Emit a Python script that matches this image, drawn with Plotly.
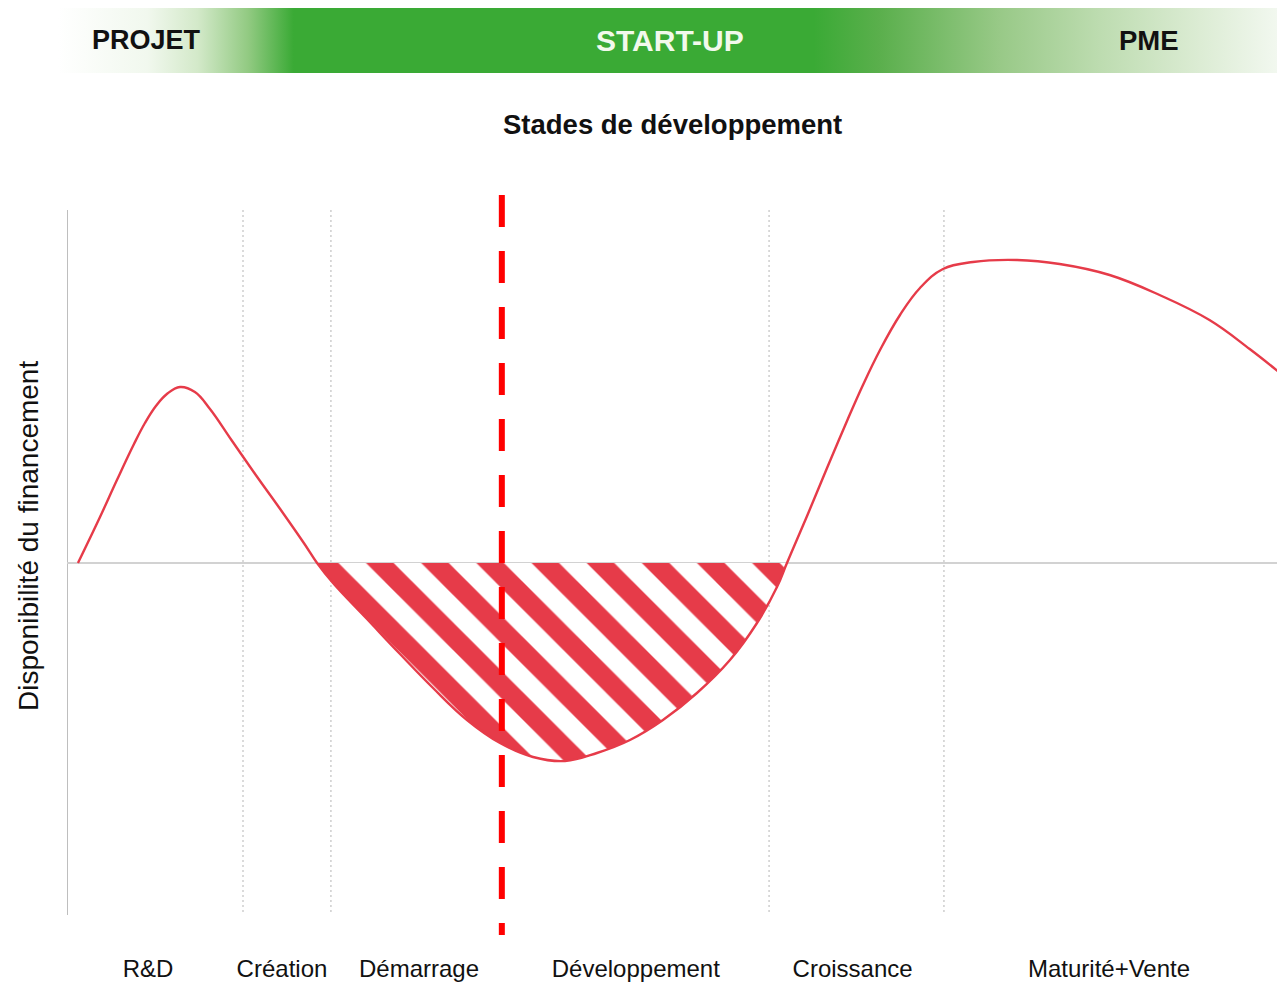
import plotly.graph_objects as go

# Financing availability curve along the development stages (abstract units)
x_curve = [0.9, 2.71, 4.1, 5.5, 6.4, 7.3, 8.2, 9.28, 10.5, 11.74, 13.5, 15.5, 17.5,
           19.5, 20.53, 21.84, 24.63, 27.34, 30.05, 32.84, 35.55, 38.26, 40.89,
           43.51, 46.22, 48.93, 51.72, 54.43, 56.65, 58.29, 59.11, 60.76, 62.4,
           64.04, 65.35, 66.75, 68.39, 70.03, 71.92, 74.38, 78.0, 81.5, 85.6,
           89.7, 93.8, 97.1, 99.6]
y_curve = [0.0, 0.46, 0.83, 1.19, 1.4, 1.57, 1.69, 1.76, 1.71, 1.54, 1.23, 0.88, 0.54,
           0.19, 0.0, -0.2, -0.56, -0.91, -1.25, -1.57, -1.8, -1.94, -1.98,
           -1.9, -1.77, -1.57, -1.3, -0.97, -0.6, -0.24, 0.0, 0.47, 0.95,
           1.42, 1.78, 2.13, 2.48, 2.75, 2.94, 3.01, 3.03, 2.99, 2.88,
           2.68, 2.43, 2.14, 1.9]

# stages (x axis)
stages = ['R&D', 'Création', 'Démarrage', 'Développement', 'Croissance', 'Maturité+Vente']
stage_label_pos = [6.65, 17.65, 28.9, 46.7, 64.5, 85.55]
stage_edges = [14.45, 21.67, 57.64, 72.0]
today_x = 35.7  # red dashed marker

# company phases (top band)
phases = ['PROJET', 'START-UP', 'PME']
phase_pos = [146, 670, 1149]
phase_size = [27, 30, 27.5]

RED = '#e63b49'
OFF = 8  # page body margin
W, H = 1285 - OFF, 984 - OFF


def px(v):
    return (v - OFF) / W


def py(v):
    return 1 - (v - OFF) / H


# financing gap: negative part of the curve
gap_x = [x for x, y in zip(x_curve, y_curve) if y <= 0 and 20 < x < 60]
gap_y = [y for x, y in zip(x_curve, y_curve) if y <= 0 and 20 < x < 60]

fig = go.Figure()

# top gradient band (decoration, pixel-like axes)
fig.add_trace(go.Scatter(
    x=[58, 1285, 1285, 58, 58], y=[6, 6, 73, 73, 6],
    xaxis='x2', yaxis='y2', mode='lines', line=dict(width=0),
    fill='toself',
    fillgradient=dict(type='horizontal', colorscale=[
        [0.0, '#ffffff'], [0.073, '#f1f8ee'], [0.114, '#d3e9c9'],
        [0.155, '#92ca82'], [0.192, '#3aaa35'], [0.616, '#3aaa35'],
        [0.669, '#5aaf4c'], [0.767, '#98c987'], [0.849, '#bddcb0'],
        [0.931, '#dcecd4'], [1.0, '#f4f9f2']]),
    hoverinfo='skip', showlegend=False))

fig.add_trace(go.Scatter(
    x=gap_x, y=gap_y, mode='lines', line=dict(width=0, shape='spline', smoothing=1.15),
    fill='tozeroy', fillcolor='white',
    fillpattern=dict(shape='\\', size=39, solidity=0.5, fgcolor=RED,
                     bgcolor='white', fillmode='replace'),
    hoverinfo='skip', showlegend=False))

fig.add_trace(go.Scatter(
    x=x_curve, y=y_curve, mode='lines',
    line=dict(color=RED, width=2.4, shape='spline', smoothing=1.15),
    hoverinfo='skip', showlegend=False))

# dotted stage separators
for xe in stage_edges:
    fig.add_shape(type='line', x0=xe, x1=xe, y0=3.53, y1=-3.52, xref='x', yref='y',
                  line=dict(color='#b5b5b5', width=1, dash='2px,3px'), layer='below')

# left axis line
fig.add_shape(type='line', x0=0, x1=0, y0=3.53, y1=-3.52, xref='x', yref='y',
              line=dict(color='#a8a8a8', width=1.5), layer='below')

# red dashed marker
fig.add_shape(type='line', x0=today_x, x1=today_x, y0=1, y1=0, xref='x', yref='y domain',
              line=dict(color='#ff0000', width=6, dash='32px,24px'))

FONT = 'Liberation Sans, Arial, Helvetica, sans-serif'

for name, xp, fs in zip(phases, phase_pos, phase_size):
    fig.add_annotation(x=px(xp), y=py(40), xref='paper', yref='paper',
                       xanchor='center', yanchor='middle',
                       text='<b>%s</b>' % name, showarrow=False,
                       font=dict(family=FONT, size=fs,
                                 color='#f2f9ec' if name == 'START-UP' else '#111111'))

fig.add_annotation(x=px(672), y=py(125), xref='paper', yref='paper',
                   xanchor='center', yanchor='middle',
                   text='<b>Stades de développement</b>', showarrow=False,
                   font=dict(family=FONT, size=27.5, color='#111111'))

fig.add_annotation(x=px(28), y=py(536), xref='paper', yref='paper',
                   xanchor='center', yanchor='middle',
                   text='Disponibilité du financement', textangle=-90, showarrow=False,
                   font=dict(family=FONT, size=28, color='#111111'))

fig.update_layout(
    width=W, height=H,
    margin=dict(l=0, r=0, t=0, b=0),
    paper_bgcolor='white', plot_bgcolor='rgba(0,0,0,0)',
    font=dict(family=FONT, color='#111111'),
    xaxis=dict(domain=[px(67), 1], range=[0, 100], showgrid=False, zeroline=False,
               showline=False, ticks='', tickvals=stage_label_pos, ticktext=stages,
               tickfont=dict(size=24, color='#111111'), ticklabelstandoff=17,
               automargin=False, fixedrange=True),
    yaxis=dict(domain=[py(935), py(195)], range=[-3.72, 3.68], showgrid=False,
               zeroline=True, zerolinecolor='#d2d2d2', zerolinewidth=2,
               showline=False, showticklabels=False, ticks='', automargin=False,
               fixedrange=True),
    xaxis2=dict(domain=[0, 1], range=[OFF, 1285], anchor='y2', visible=False,
                fixedrange=True),
    yaxis2=dict(domain=[0, 1], range=[984, OFF], anchor='x2', visible=False,
                fixedrange=True),
)

fig.write_html("out.html")
